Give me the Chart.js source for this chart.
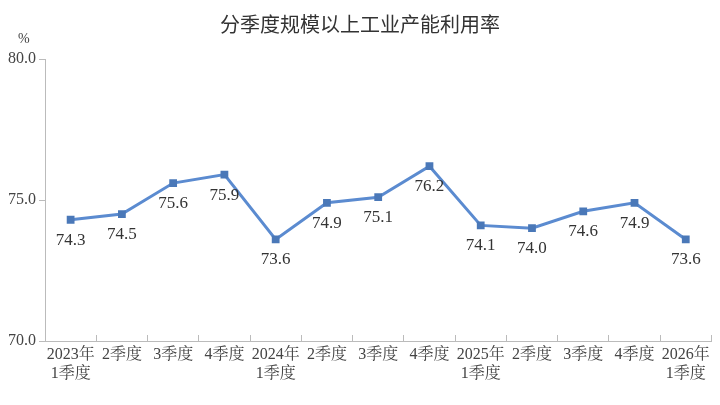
<!DOCTYPE html>
<html>
<head>
<meta charset="utf-8">
<script src="https://cdn.jsdelivr.net/npm/chart.js@4"></script>
<style>
  body { margin: 0; background: #fff; }
  #wrap { width: 720px; height: 405px; position: relative; }
  #title { position: absolute; top: 9px; left: 0; width: 720px; text-align: center;
    font: 20px "Noto Sans CJK SC", sans-serif; color: #333; }
  #unit { position: absolute; top: 31px; left: 18px; font: 14px "Liberation Serif", serif; color: #444; }
</style>
</head>
<body>
<div id="wrap">
  <div id="title">分季度规模以上工业产能利用率</div>
  <div id="unit">%</div>
  <canvas id="c" width="720" height="405"></canvas>
</div>
<script>
const categories = [
  ["2023年", "1季度"], "2季度", "3季度", "4季度",
  ["2024年", "1季度"], "2季度", "3季度", "4季度",
  ["2025年", "1季度"], "2季度", "3季度", "4季度",
  ["2026年", "1季度"]
];
const rates = [74.3, 74.5, 75.6, 75.9, 73.6, 74.9, 75.1, 76.2, 74.1, 74.0, 74.6, 74.9, 73.6];
const yTicks = [70, 75, 80];

const labelPlugin = {
  id: "valueLabels",
  afterDatasetsDraw(chart) {
    const ctx = chart.ctx;
    const meta = chart.getDatasetMeta(0);
    ctx.save();
    ctx.font = "17px 'Liberation Serif', serif";
    ctx.fillStyle = "#333";
    ctx.textAlign = "center";
    ctx.textBaseline = "top";
    meta.data.forEach((pt, i) => {
      ctx.fillText(rates[i].toFixed(1), pt.x, pt.y + 12);
    });
    ctx.restore();
  }
};

new Chart(document.getElementById("c"), {
  type: "line",
  data: {
    labels: categories,
    datasets: [{
      data: rates,
      borderColor: "#5b8bd0",
      backgroundColor: "#4a78b8",
      borderWidth: 3,
      pointStyle: "rect",
      pointRadius: 5.5,
      pointBorderWidth: 0,
      tension: 0,
    }],
  },
  options: {
    responsive: false,
    animation: false,
    layout: { padding: { top: 59, left: 0, right: 6, bottom: 14 } },
    plugins: { legend: { display: false }, tooltip: { enabled: false } },
    scales: {
      x: {
        offset: true,
        afterFit: (ax) => { ax.height = 50; },
        grid: { display: true, drawOnChartArea: false, offset: true, tickLength: -6, color: "#bbb" },
        border: { color: "#bbb" },
        ticks: { color: "#444", padding: 10, maxRotation: 0, autoSkip: false, font: { family: "'Liberation Serif', 'Noto Serif CJK SC', serif", size: 16 } },
      },
      y: {
        min: 70, max: 80,
        afterBuildTicks: (ax) => { ax.ticks = yTicks.map((v) => ({ value: v })); },
        afterFit: (ax) => { ax.width = 45; },
        grid: { drawOnChartArea: false, tickLength: 6, color: "#bbb" },
        border: { color: "#bbb" },
        ticks: { color: "#444", callback: (v) => v.toFixed(1), font: { family: "'Liberation Serif', serif", size: 16 } },
      },
    },
  },
  plugins: [labelPlugin],
});
</script>
</body>
</html>
